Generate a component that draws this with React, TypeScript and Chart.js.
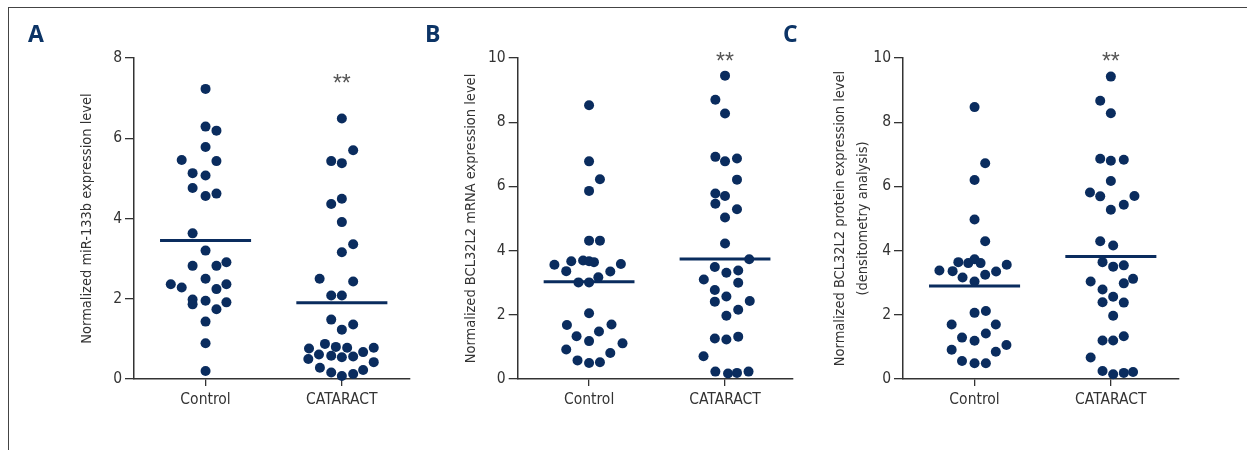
import React, { useEffect, useRef } from 'react';
import { Chart, registerables } from 'chart.js';

Chart.register(...registerables);

// ---------- data ----------
const categories = ['Control', 'CATARACT'];

// Panel A: miR-133b
const aControlValues = [7.23, 6.29, 6.19, 5.78, 5.46, 5.43, 5.13, 5.07, 4.76, 4.56, 4.62, 3.63, 3.2, 2.82, 2.82, 2.91, 2.5, 2.36, 2.28, 2.24, 2.36, 1.98, 1.86, 1.95, 1.91, 1.74, 1.43, 0.89, 0.2];
const aControlJitter = [0, 0, 0.08, 0, -0.175, 0.08, -0.095, 0, -0.095, 0, 0.08, -0.095, 0, -0.095, 0.08, 0.153, 0, -0.255, -0.175, 0.08, 0.153, -0.095, -0.095, 0, 0.153, 0.08, 0, 0, 0];
const aCataractValues = [6.49, 5.7, 5.43, 5.38, 4.49, 4.36, 3.91, 3.36, 3.16, 2.5, 2.43, 2.08, 2.08, 1.48, 1.36, 1.23, 0.76, 0.875, 0.8, 0.78, 0.78, 0.61, 0.58, 0.54, 0.56, 0.67, 0.5, 0.42, 0.28, 0.16, 0.075, 0.125, 0.225];
const aCataractJitter = [0, 0.083, -0.078, 0, 0, -0.078, 0, 0.083, 0, -0.163, 0.083, -0.078, 0, -0.078, 0.083, 0, -0.241, -0.124, -0.044, 0.039, 0.234, -0.168, -0.078, 0, 0.083, 0.156, -0.246, 0.234, -0.161, -0.078, 0, 0.083, 0.156];
const aMeans = [3.45, 1.9];

// Panel B: BCL32L2 mRNA
const bControlValues = [8.53, 6.78, 6.22, 5.86, 4.31, 4.31, 3.56, 3.67, 3.69, 3.67, 3.64, 3.58, 3.36, 3.35, 3.17, 3.01, 3.01, 2.05, 1.68, 1.7, 1.33, 1.48, 1.18, 1.11, 0.92, 0.81, 0.58, 0.5, 0.52];
const bControlJitter = [0, 0, 0.08, 0, 0, 0.08, -0.255, -0.131, -0.044, 0, 0.036, 0.234, -0.168, 0.156, 0.068, -0.078, 0, 0, -0.163, 0.165, -0.092, 0.073, 0, 0.246, -0.168, 0.156, -0.085, 0, 0.08];
const bCataractValues = [9.45, 8.7, 8.27, 6.92, 6.78, 6.87, 6.21, 5.78, 5.7, 5.46, 5.29, 5.03, 4.22, 3.73, 3.49, 3.31, 3.38, 3.1, 3.0, 2.77, 2.57, 2.41, 2.43, 2.16, 1.97, 1.26, 1.23, 1.32, 0.71, 0.23, 0.17, 0.19, 0.23];
const bCataractJitter = [0, -0.071, 0, -0.071, 0, 0.088, 0.088, -0.071, 0, -0.071, 0.088, 0, 0, 0.178, -0.075, 0.01, 0.097, -0.156, 0.097, -0.075, 0.01, -0.075, 0.182, 0.097, 0.01, -0.075, 0.01, 0.097, -0.158, -0.071, 0.022, 0.088, 0.173];
const bMeans = [3.03, 3.74];

// Panel C: BCL32L2 protein
const cControlValues = [8.47, 6.72, 6.2, 4.97, 4.29, 3.38, 3.36, 3.64, 3.61, 3.73, 3.61, 3.56, 3.16, 3.25, 3.35, 3.04, 2.06, 2.12, 1.7, 1.7, 1.29, 1.19, 1.42, 1.06, 0.91, 0.85, 0.56, 0.49, 0.49];
const cControlJitter = [0, 0.078, 0, 0, 0.078, -0.258, -0.161, -0.119, -0.046, 0, 0.044, 0.236, -0.088, 0.078, 0.158, 0, 0, 0.083, -0.168, 0.156, -0.092, 0, 0.083, 0.234, -0.168, 0.156, -0.092, 0, 0.083];
const cCataractValues = [9.42, 8.67, 8.28, 6.86, 6.8, 6.83, 6.17, 5.81, 5.69, 5.7, 5.43, 5.27, 4.29, 4.16, 3.64, 3.5, 3.54, 3.04, 2.98, 3.12, 2.79, 2.56, 2.39, 2.38, 1.97, 1.2, 1.2, 1.33, 0.67, 0.25, 0.15, 0.19, 0.22];
const cCataractJitter = [0, -0.078, 0, -0.078, 0, 0.095, 0, -0.153, -0.078, 0.173, 0.095, 0, -0.078, 0.017, -0.061, 0.017, 0.095, -0.148, 0.095, 0.163, -0.061, 0.017, -0.061, 0.095, 0.017, -0.061, 0.017, 0.095, -0.148, -0.061, 0.017, 0.095, 0.163];
const cMeans = [2.9, 3.82];

const yMaxes = [8, 10, 10];
const yStep = 2;
const significanceLevels = [7.43, 9.97, 9.97];
const significanceText = '**';
const panelLetters = ['A', 'B', 'C'];
const yTitles: (string | string[])[] = [
  'Normalized miR-133b expression level',
  'Normalized BCL32L2 mRNA expression level',
  ['Normalized BCL32L2 protein expression level', '(densitometry analysis)'],
];

// ---------- styles ----------
const NAVY = '#0a2c5e';
const AXIS = '#333333';
const TEXT = '#333333';
const FONT = "'DejaVu Sans Condensed', 'Liberation Sans Narrow', sans-serif";
const TICK_SIZE = 15.5;
const TITLE_SIZE = 14.5;
const MEAN_HALF = 0.334;

interface Layout {
  left: number;
  width: number;
  yWidth: number;
  padRight: number;
  titlePad: number;
  titleLineHeight: number;
  letterX: number;
}

const layouts: Layout[] = [
  { left: 0, width: 420, yWidth: 134, padRight: 10, titlePad: 78.3, titleLineHeight: 1.2, letterX: 28 },
  { left: 420, width: 380, yWidth: 97.7, padRight: 7, titlePad: 43, titleLineHeight: 1.2, letterX: 5 },
  { left: 775, width: 472, yWidth: 128, padRight: 68, titlePad: 53.5, titleLineHeight: 1.586, letterX: 8 },
];

const panelData = [
  { control: aControlValues, controlJ: aControlJitter, cat: aCataractValues, catJ: aCataractJitter, means: aMeans },
  { control: bControlValues, controlJ: bControlJitter, cat: bCataractValues, catJ: bCataractJitter, means: bMeans },
  { control: cControlValues, controlJ: cControlJitter, cat: cCataractValues, catJ: cCataractJitter, means: cMeans },
];

function buildConfig(i: number): any {
  const d = panelData[i];
  const L = layouts[i];
  const pts = (vals: number[], jit: number[], idx: number) => vals.map((v, k) => ({ x: idx + jit[k], y: v }));
  const meanLine = (idx: number) => ({
    data: [
      { x: idx - MEAN_HALF, y: d.means[idx] },
      { x: idx + MEAN_HALF, y: d.means[idx] },
    ],
    showLine: true,
    borderColor: NAVY,
    borderWidth: 3,
    borderCapStyle: 'butt',
    pointRadius: 0,
    order: 2,
    clip: false,
  });
  const dots = (vals: number[], jit: number[], idx: number) => ({
    data: pts(vals, jit, idx),
    backgroundColor: NAVY,
    borderWidth: 0,
    pointRadius: 5,
    pointHoverRadius: 5,
    order: 1,
    clip: false,
  });

  const overlay = {
    id: 'overlay' + i,
    afterDraw(chart: any) {
      const ctx = chart.ctx;
      const xs = chart.scales.x;
      const ys = chart.scales.y;
      ctx.save();
      // significance stars
      ctx.fillStyle = '#555555';
      ctx.font = "23px 'Liberation Sans', Arial, sans-serif";
      ctx.textAlign = 'center';
      ctx.textBaseline = 'alphabetic';
      ctx.fillText(significanceText, xs.getPixelForValue(1), ys.getPixelForValue(significanceLevels[i]) + 10);
      // panel letter
      ctx.fillStyle = '#0c3466';
      ctx.font = "bold 23px 'Open Sans', 'Liberation Sans', sans-serif";
      ctx.textAlign = 'left';
      ctx.fillText(panelLetters[i], L.letterX, 42);
      ctx.restore();
    },
  };

  return {
    type: 'scatter',
    data: {
      datasets: [meanLine(0), meanLine(1), dots(d.control, d.controlJ, 0), dots(d.cat, d.catJ, 1)],
    },
    plugins: [overlay],
    options: {
      responsive: false,
      animation: false,
      events: [],
      layout: { padding: { top: 58, left: 0, right: L.padRight, bottom: 0 } },
      plugins: { legend: { display: false }, tooltip: { enabled: false } },
      scales: {
        x: {
          type: 'linear',
          min: -0.525,
          max: 1.5,
          afterBuildTicks: (s: any) => {
            s.ticks = categories.map((_, k) => ({ value: k }));
          },
          afterFit: (s: any) => {
            s.height = 71;
          },
          ticks: {
            callback: (_v: any, idx: number) => categories[idx] ?? '',
            font: { family: FONT, size: TICK_SIZE },
            color: TEXT,
            padding: 5,
            maxRotation: 0,
            autoSkip: false,
          },
          grid: { drawOnChartArea: false, tickLength: 7, color: AXIS, lineWidth: 1.3 },
          border: { color: AXIS, width: 1.5 },
        },
        y: {
          type: 'linear',
          min: 0,
          max: yMaxes[i],
          afterFit: (s: any) => {
            s.width = L.yWidth;
          },
          ticks: {
            stepSize: yStep,
            font: { family: FONT, size: TICK_SIZE },
            color: TEXT,
            padding: 3,
          },
          grid: { drawOnChartArea: false, tickLength: 9, color: AXIS, lineWidth: 1.3 },
          border: { color: AXIS, width: 1.5 },
          title: {
            display: true,
            text: yTitles[i],
            color: TEXT,
            font: { family: FONT, size: TITLE_SIZE, lineHeight: L.titleLineHeight },
            padding: { top: L.titlePad, bottom: 0 },
          },
        },
      },
    },
  };
}

function Panel({ index }: { index: number }) {
  const ref = useRef<HTMLCanvasElement | null>(null);
  useEffect(() => {
    if (!ref.current) return;
    const chart = new Chart(ref.current, buildConfig(index));
    return () => chart.destroy();
  }, [index]);
  const L = layouts[index];
  return (
    <canvas
      ref={ref}
      width={L.width}
      height={450}
      style={{ position: 'absolute', left: L.left, top: 0, width: L.width, height: 450 }}
    />
  );
}

export default function App() {
  return (
    <div style={{ position: 'absolute', left: 0, top: 0, width: 1247, height: 450, background: '#fff', overflow: 'hidden' }}>
      <div
        style={{
          position: 'absolute',
          left: 8,
          top: 7,
          width: 1250,
          height: 460,
          borderTop: '1px solid #444',
          borderLeft: '1px solid #444',
          boxSizing: 'border-box',
        }}
      />
      <Panel index={0} />
      <Panel index={1} />
      <Panel index={2} />
    </div>
  );
}
